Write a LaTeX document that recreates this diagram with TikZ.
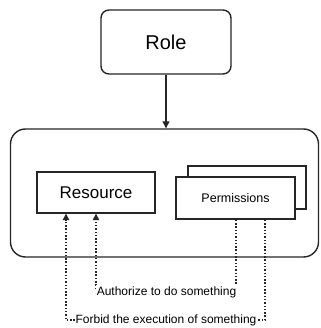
\documentclass[tikz,border=0pt]{standalone}
\usepackage{fontspec}
\setmainfont{Liberation Sans}
\usetikzlibrary{arrows.meta}
\begin{document}
\begin{tikzpicture}[x=1pt,y=-1pt,
  box/.style={draw=black!85,line width=1.4pt,fill=white,inner sep=0pt},
  conn/.style={draw=black!85,line width=1.3pt},
  dotline/.style={draw=black!85,line width=1.3pt,dash pattern=on 1.5pt off 1.8pt},
  lbl/.style={fill=white,inner sep=1pt,font=\fontsize{12}{14}\selectfont},
  tip/.style={-{Triangle[length=6.5pt,width=6.5pt]}}]
\useasboundingbox[fill=white] (0,0) rectangle (320,328);
% Role
\node[box,rounded corners=8pt,minimum width=130pt,minimum height=64pt,font=\fontsize{20}{22}\selectfont] (role) at (166,42) {Role};
% container
\node[box,rounded corners=15pt,minimum width=308pt,minimum height=128pt] (cont) at (164.5,193) {};
\draw[conn,-{Triangle[length=7pt,width=7pt]}] (role.south) -- (cont.north -| role.south);
% Resource
\node[box,minimum width=118pt,minimum height=41pt,font=\fontsize{17}{20}\selectfont] (res) at (96,192.5) {Resource};
% Permissions stack
\node[box,minimum width=118pt,minimum height=43pt] (permback) at (247,187.5) {};
\node[box,minimum width=119pt,minimum height=42pt,font=\fontsize{12.5}{15}\selectfont] (perm) at (235.5,198) {Permissions};
% coordinates
\coordinate (a1) at (236,219);
\coordinate (a2) at (96,213);
\coordinate (f1) at (265,219);
\coordinate (f2) at (66,213);
\draw[dotline,tip] (perm.south -| a1) -- (236,290) -- (96,290) -- (res.south -| a2);
\draw[dotline,tip] (perm.south -| f1) -- (265,320) -- (66,320) -- (res.south -| f2);
\node[lbl] (la) at (166.5,292) {Authorize to do something};
\node[lbl] (lf) at (166,320) {Forbid the execution of something};
\end{tikzpicture}
\end{document}
